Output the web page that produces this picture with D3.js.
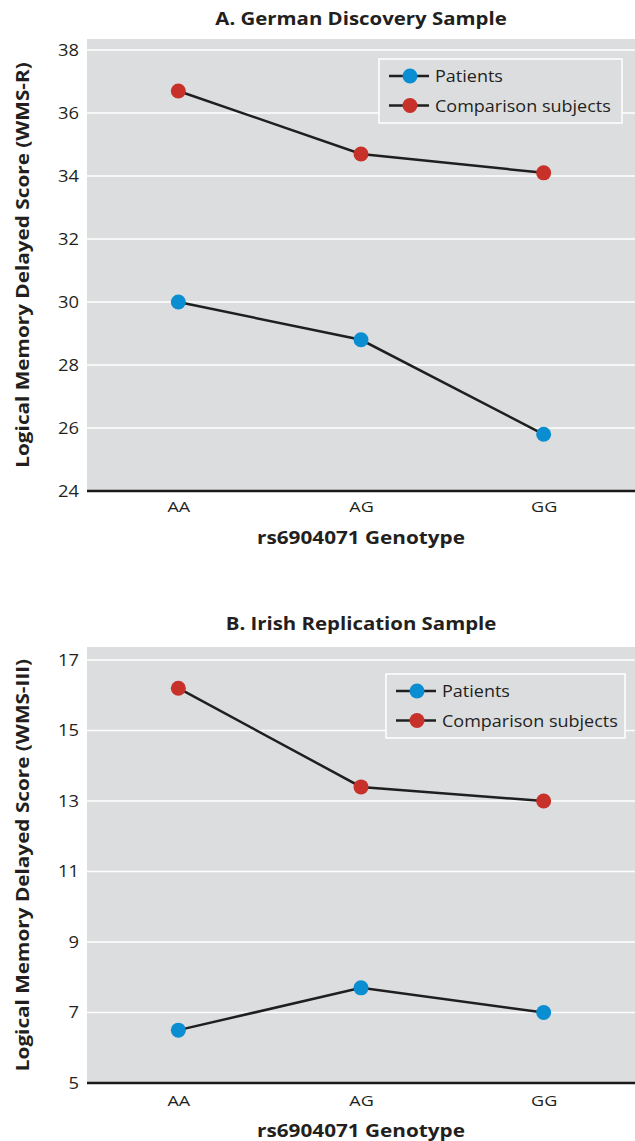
<!DOCTYPE html>
<html><head><meta charset="utf-8">
<script src="https://cdn.jsdelivr.net/npm/d3@7"></script>
<style>body{margin:0;background:#fff;} svg{display:block;font-family:"Open Sans",sans-serif;}</style>
</head><body>
<script>
const genotypes = ["AA","AG","GG"];
const seriesNames = ["Patients","Comparison subjects"];
const colors = ["#0a8ed1","#c8302a"];
// Panel A
const titleA = "A. German Discovery Sample";
const yLabelA = "Logical Memory Delayed Score (WMS-R)";
const ticksA = [24,26,28,30,32,34,36,38];
const patientsA = [30.0, 28.8, 25.8];
const comparisonA = [36.7, 34.7, 34.1];
// Panel B
const titleB = "B. Irish Replication Sample";
const yLabelB = "Logical Memory Delayed Score (WMS-III)";
const ticksB = [5,7,9,11,13,15,17];
const patientsB = [6.5, 7.7, 7.0];
const comparisonB = [16.2, 13.4, 13.0];
const xLabel = "rs6904071 Genotype";

const W = 635, H = 1141;
const TXT = "#231f20";
const svg = d3.select("body").append("svg").attr("width", W).attr("height", H);

// text drawn in a horizontally widened style (the source typeface is wider than Open Sans)
function stretchText(g, x, y, str, opts){
  const rot = opts.rotate ? ` rotate(${opts.rotate})` : "";
  return g.append("text")
    .attr("transform", `translate(${x},${y})${rot} scale(${opts.sx || 1},1)`)
    .attr("text-anchor", opts.anchor || "middle")
    .attr("font-size", opts.size).attr("font-weight", opts.weight || "normal")
    .attr("fill", TXT).text(str);
}

function panel(cfg){
  const g = svg.append("g");
  const x = d3.scalePoint().domain(genotypes).range([cfg.left, cfg.right]).padding(0.5);
  const y = d3.scaleLinear().domain(cfg.domain).range([cfg.bottom, cfg.topTick]);
  g.append("rect").attr("x", cfg.left).attr("y", cfg.bgTop)
    .attr("width", cfg.right - cfg.left).attr("height", cfg.bottom - cfg.bgTop).attr("fill", "#dcdddf");
  g.selectAll(".grid").data(cfg.ticks.slice(1)).join("line")
    .attr("x1", cfg.left).attr("x2", cfg.right)
    .attr("y1", d => y(d)).attr("y2", d => y(d))
    .attr("stroke", "#fff").attr("stroke-width", 1.5);
  // y tick labels
  const ya = g.append("g").attr("transform", `translate(${cfg.left},0)`)
    .call(d3.axisLeft(y).tickValues(cfg.ticks).tickSize(0).tickPadding(8));
  ya.select(".domain").remove();
  ya.selectAll(".tick text").each(function(d){
    const t = d3.select(this);
    t.attr("font-size", 17).attr("fill", TXT).attr("font-family", "Open Sans, sans-serif")
     .attr("transform", `translate(-8,0) scale(1.08,1) translate(8,0)`);
  });
  // x tick labels
  const xa = g.append("g").attr("transform", `translate(0,${cfg.bottom})`)
    .call(d3.axisBottom(x).tickSize(0).tickPadding(cfg.xTickPad));
  xa.select(".domain").remove();
  xa.selectAll(".tick text").attr("font-size", 15).attr("fill", TXT)
    .attr("font-family", "Open Sans, sans-serif").attr("transform", "scale(1.2,1)");
  g.append("line").attr("x1", cfg.left).attr("x2", cfg.right).attr("y1", cfg.bottom).attr("y2", cfg.bottom)
    .attr("stroke", "#1a1a1a").attr("stroke-width", 2.5);
  // titles
  const cx = (cfg.left + cfg.right) / 2;
  stretchText(g, cx, cfg.titleY, cfg.title, {size: 17, weight: "bold", sx: 1.2});
  stretchText(g, cx, cfg.xLabelY, xLabel, {size: 17, weight: "bold", sx: 1.22});
  stretchText(g, 29, (cfg.bgTop + cfg.bottom) / 2, cfg.yLabel, {size: 17, weight: "bold", sx: 1.22, rotate: -90});
  // series
  const series = [cfg.patients, cfg.comparison];
  const line = d3.line().x((d, i) => x(genotypes[i])).y(d => y(d));
  series.forEach((s, si) => {
    g.append("path").attr("d", line(s)).attr("fill", "none").attr("stroke", "#1f1f1f").attr("stroke-width", 2.5);
    g.selectAll(".pt" + si).data(s).join("circle")
      .attr("cx", (d, i) => x(genotypes[i])).attr("cy", d => y(d))
      .attr("r", 7.5).attr("fill", colors[si]);
  });
  // legend
  const L = cfg.legend;
  g.append("rect").attr("x", L.x).attr("y", L.y).attr("width", L.w).attr("height", L.h)
    .attr("fill", "#dcdddf").attr("stroke", "#fff").attr("stroke-width", 1.5);
  seriesNames.forEach((n, i) => {
    const ry = L.y + 17 + i * 29.5;
    g.append("line").attr("x1", L.x + 10).attr("x2", L.x + 50).attr("y1", ry).attr("y2", ry)
      .attr("stroke", "#1f1f1f").attr("stroke-width", 2.5);
    g.append("circle").attr("cx", L.x + 31).attr("cy", ry).attr("r", 7.5).attr("fill", colors[i]);
    stretchText(g, L.x + 56, ry + 6, n, {size: 17, sx: 1.06, anchor: "start"});
  });
}

panel({left: 87, right: 635, bgTop: 39, topTick: 50, bottom: 491, domain: [24, 38], ticks: ticksA,
  title: titleA, titleY: 25, xLabelY: 544, xTickPad: 10, yLabel: yLabelA, patients: patientsA, comparison: comparisonA,
  legend: {x: 379, y: 59, w: 243, h: 64}});
panel({left: 87, right: 635, bgTop: 647, topTick: 660, bottom: 1083, domain: [5, 17], ticks: ticksB,
  title: titleB, titleY: 630, xLabelY: 1137, xTickPad: 12, yLabel: yLabelB, patients: patientsB, comparison: comparisonB,
  legend: {x: 386, y: 674, w: 239, h: 64}});
</script>
</body></html>
